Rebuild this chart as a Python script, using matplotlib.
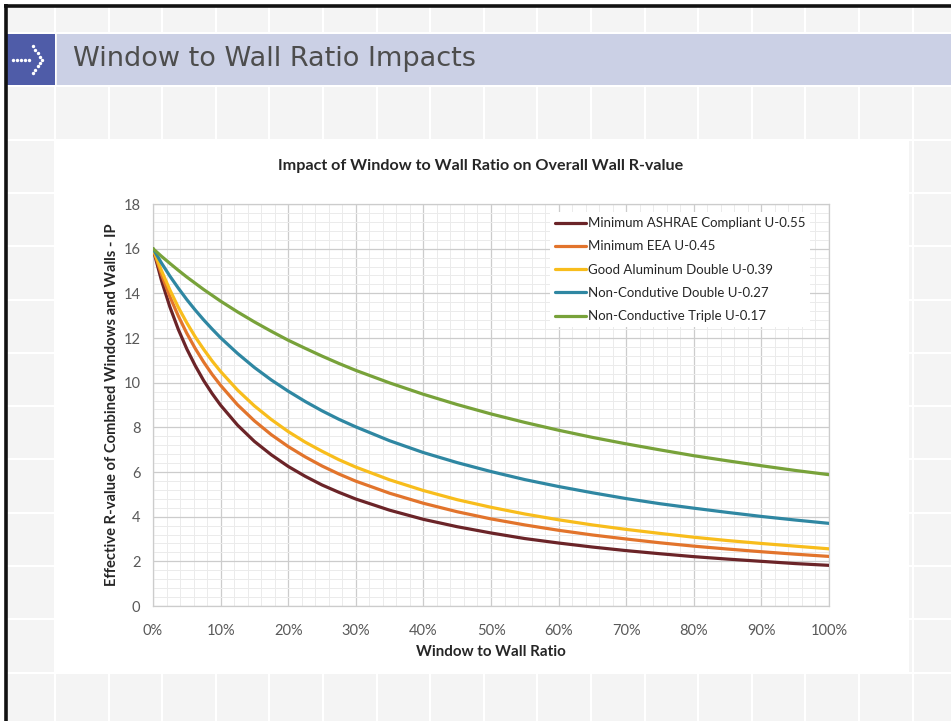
import matplotlib
matplotlib.use("Agg")
import matplotlib.pyplot as plt
from matplotlib.patches import Rectangle
from matplotlib.ticker import MultipleLocator, FuncFormatter

W, H = 951, 721

# window-to-wall ratio (%) and effective R-value for each glazing option
wwr = [0, 1.25, 2.5, 3.75, 5, 6.25, 7.5, 8.75, 10, 12.5, 15, 17.5, 20, 22.5, 25, 27.5,
       30, 35, 40, 45, 50, 55, 60, 65, 70, 75, 80, 85, 90, 95, 100]

r_ashrae = [16.0, 14.58, 13.39, 12.38, 11.51, 10.76, 10.09, 9.51, 8.99, 8.10, 7.37, 6.77,
            6.25, 5.81, 5.42, 5.09, 4.79, 4.29, 3.88, 3.55, 3.27,
            3.02, 2.82, 2.64, 2.48, 2.34, 2.21, 2.10, 2.00, 1.90, 1.82]
r_eea = [16.0, 14.85, 13.85, 12.98, 12.21, 11.53, 10.92, 10.37, 9.88, 9.01, 8.29, 7.67,
         7.14, 6.68, 6.27, 5.91, 5.59, 5.05, 4.60, 4.22, 3.90,
         3.63, 3.39, 3.18, 3.00, 2.83, 2.68, 2.55, 2.43, 2.32, 2.22]
r_alum_double = [16.0, 15.02, 14.15, 13.37, 12.68, 12.05, 11.49, 10.97, 10.50, 9.67, 8.96, 8.35,
                 7.81, 7.34, 6.93, 6.55, 6.22, 5.65, 5.17, 4.76, 4.42,
                 4.12, 3.86, 3.63, 3.43, 3.25, 3.08, 2.93, 2.80, 2.68, 2.56]
r_nc_double = [16.0, 15.36, 14.77, 14.23, 13.72, 13.25, 12.81, 12.40, 12.01, 11.31, 10.68, 10.12,
               9.62, 9.16, 8.74, 8.36, 8.02, 7.40, 6.87, 6.42, 6.02,
               5.66, 5.35, 5.07, 4.81, 4.58, 4.38, 4.19, 4.01, 3.85, 3.70]
r_nc_triple = [16.0, 15.66, 15.34, 15.03, 14.73, 14.45, 14.17, 13.91, 13.65, 13.17, 12.72, 12.30,
               11.90, 11.54, 11.19, 10.86, 10.55, 9.99, 9.48, 9.02, 8.60,
               8.22, 7.87, 7.55, 7.26, 6.99, 6.73, 6.50, 6.28, 6.07, 5.88]

series = [
    ("Minimum ASHRAE Compliant U-0.55", r_ashrae, "#6b2428"),
    ("Minimum EEA U-0.45", r_eea, "#e2742c"),
    ("Good Aluminum Double U-0.39", r_alum_double, "#f8bd1c"),
    ("Non-Condutive Double U-0.27", r_nc_double, "#2f87a2"),
    ("Non-Conductive Triple U-0.17", r_nc_triple, "#78a23a"),
]

CHART_FONT = ["Lato", "DejaVu Sans"]
TICK_COLOR = "#595959"

fig = plt.figure(figsize=(W / 100, H / 100), dpi=100)
fig.patch.set_facecolor("white")

# ── slide background in pixel coordinates ─────────────────────────────────────
bg = fig.add_axes([0, 0, 1, 1])
bg.set_xlim(0, W)
bg.set_ylim(H, 0)
bg.axis("off")

col_edges = [6] + [55 + 53.6 * k for k in range(18)]
row_edges = [6] + [33 + 53.3 * k for k in range(14)]
for i in range(len(col_edges) - 1):
    for j in range(len(row_edges) - 1):
        x0, x1 = col_edges[i], col_edges[i + 1]
        y0, y1 = row_edges[j], row_edges[j + 1]
        x0 = x0 + (1 if i > 0 else 0)
        y0 = y0 + (1 if j > 0 else 0)
        bg.add_patch(Rectangle((x0, y0), x1 - x0 - 1, y1 - y0 - 1,
                               facecolor="#f4f4f4", edgecolor="none"))

# header band + icon square
bg.add_patch(Rectangle((57, 33.5), W - 57, 51.5, facecolor="#cbd0e5", edgecolor="none"))
bg.add_patch(Rectangle((6, 33.5), 48.5, 51.5, facecolor="#4f5ca8", edgecolor="none"))
dots_x = [13, 17, 21, 25, 29, 32.5, 35, 37.5, 40, 41.5, 40, 37.5, 35, 32.5]
dots_y = [59.5, 59.5, 59.5, 59.5, 59.5, 46, 49.5, 53, 56.5, 59.5, 62.5, 66, 69.5, 73]
bg.scatter(dots_x, dots_y, s=6, color="white", zorder=3, linewidths=0)
bg.text(73, 59, "Window to Wall Ratio Impacts", fontsize=19.5,
        color="#4d4d4d", family=["DejaVu Sans"], va="center", ha="left")

# white chart card
bg.add_patch(Rectangle((56, 139.5), 853, 532, facecolor="white", edgecolor="none"))

# black slide frame (top and left)
bg.plot([4, W], [5.5, 5.5], color="#111111", lw=2.6, solid_capstyle="butt")
bg.plot([5.5, 5.5], [4, H], color="#111111", lw=2.6, solid_capstyle="butt")

bg.text(481, 166, "Impact of Window to Wall Ratio on Overall Wall R-value",
        fontsize=11.6, fontweight="bold", color="#262626", family=CHART_FONT,
        ha="center", va="center")

# ── chart ─────────────────────────────────────────────────────────────────────
ax = fig.add_axes([153 / W, 1 - 606 / H, 676 / W, 402 / H])
ax.set_facecolor("white")
for name, vals, color in series:
    ax.plot(wwr, vals, color=color, lw=2.3, label=name, solid_capstyle="round", zorder=3)

ax.set_xlim(0, 100)
ax.set_ylim(0, 18)
ax.xaxis.set_major_locator(MultipleLocator(10))
ax.xaxis.set_minor_locator(MultipleLocator(2))
ax.yaxis.set_major_locator(MultipleLocator(2))
ax.yaxis.set_minor_locator(MultipleLocator(0.4))
ax.xaxis.set_major_formatter(FuncFormatter(lambda v, p: f"{v:.0f}%"))
ax.grid(which="major", color="#cccccc", lw=0.9, zorder=1)
ax.grid(which="minor", color="#ebebeb", lw=0.7, zorder=0)
ax.set_axisbelow(True)
ax.tick_params(which="both", length=0)
ax.tick_params(axis="x", pad=13)
ax.tick_params(axis="y", pad=9)
for lbl in ax.get_xticklabels() + ax.get_yticklabels():
    lbl.set_family(CHART_FONT)
    lbl.set_fontsize(10.5)
    lbl.set_color(TICK_COLOR)
for sp in ax.spines.values():
    sp.set_color("#cccccc")
    sp.set_linewidth(0.9)

ax.set_xlabel("Window to Wall Ratio", fontsize=10.9, fontweight="bold",
              color="#262626", family=CHART_FONT, labelpad=5)
ax.set_ylabel("Effective R-value of Combined Windows and Walls - IP", fontsize=10.6,
              fontweight="bold", color="#262626", family=CHART_FONT, labelpad=3)

leg = ax.legend(loc="upper left", bbox_to_anchor=(550 / W, 1 - 212 / H),
                bbox_transform=fig.transFigure, frameon=True, fancybox=False,
                facecolor="white", edgecolor="none", framealpha=1,
                prop={"family": CHART_FONT, "size": 9.5},
                handlelength=2.3, handletextpad=0.15, labelspacing=0.85,
                borderpad=0.4, borderaxespad=0)
for t in leg.get_texts():
    t.set_color("#262626")

fig.savefig("out.png", dpi=100)
